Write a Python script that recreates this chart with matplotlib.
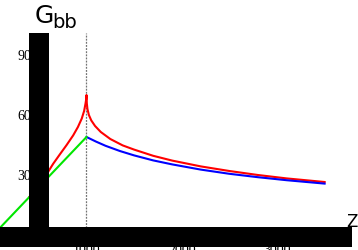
import matplotlib
matplotlib.use("Agg")
import matplotlib.pyplot as plt

# data
green_z = [0, 1000]
green_g = [0, 50]

red_z = [400, 450, 500, 550, 600, 650, 720, 790, 860, 910, 950, 975, 990, 997, 1000,
         1003, 1010, 1025, 1050, 1090, 1150, 1250, 1380, 1500, 1700, 1900, 2200,
         2500, 2800, 3100, 3500]
red_g = [20, 22.7, 25.8, 29, 32.8, 36.6, 41.3, 45.9, 50.8, 55, 59.2, 63, 66.8, 69, 71,
         67, 64, 61, 58.3, 55.5, 52.5, 49, 45.8, 43.7, 40.6, 38.2, 35.3,
         33, 31, 29.3, 27.5]

blue_z = [1000, 1100, 1200, 1350, 1500, 1700, 1900, 2200, 2500, 2800, 3100, 3500]
blue_g = [50, 47.7, 45.6, 43, 40.8, 38.3, 36.3, 33.7, 31.6, 29.9, 28.4, 26.7]

yticks = [30, 60, 90]
xticks = [1000, 2000, 3000]
z_mark = 1000
z_axis = 500

fig = plt.figure(figsize=(3.58, 2.50), dpi=100)
ax = fig.add_axes([0, 0, 1, 1])
ax.set_xlim(91.9, 3850.4)
ax.set_ylim(-6.5, 118.5)
ax.axis("off")

# dashed marker line
ax.plot([z_mark, z_mark], [0, 102], color="0.45", lw=0.9, ls=(0, (1.5, 1)), zorder=1)

ax.plot(red_z, red_g, color="#ff0000", lw=1.5, zorder=2)
ax.plot(blue_z, blue_g, color="#0000ff", lw=1.5, zorder=2)
ax.plot(green_z, green_g, color="#00e600", lw=1.5, zorder=3)

# tick labels
for t in yticks:
    ax.text(417, t, str(t), ha="right", va="center", fontsize=10,
            family="Liberation Serif", zorder=4)
for t in xticks:
    ax.text(t, -3.5, str(t), ha="center", va="top", fontsize=10,
            family="Liberation Serif", zorder=4)

# thick axes
ax.plot([z_axis, z_axis], [-5, 102], color="black", lw=14.4,
        solid_capstyle="butt", zorder=5)
ax.plot([91.9, 3787], [0, 0], color="black", lw=14.4,
        solid_capstyle="butt", zorder=5)

# axis labels
fig.text(35 / 358, 1 - 23 / 250, "G", fontsize=18, family="DejaVu Sans",
         ha="left", va="baseline")
fig.text(52 / 358, 1 - 28 / 250, "bb", fontsize=14, family="DejaVu Sans",
         ha="left", va="baseline")
fig.text(346 / 358, 1 - 227 / 250, "Z", fontsize=12, family="DejaVu Sans",
         ha="left", va="baseline")

fig.savefig("out.png", dpi=100)
